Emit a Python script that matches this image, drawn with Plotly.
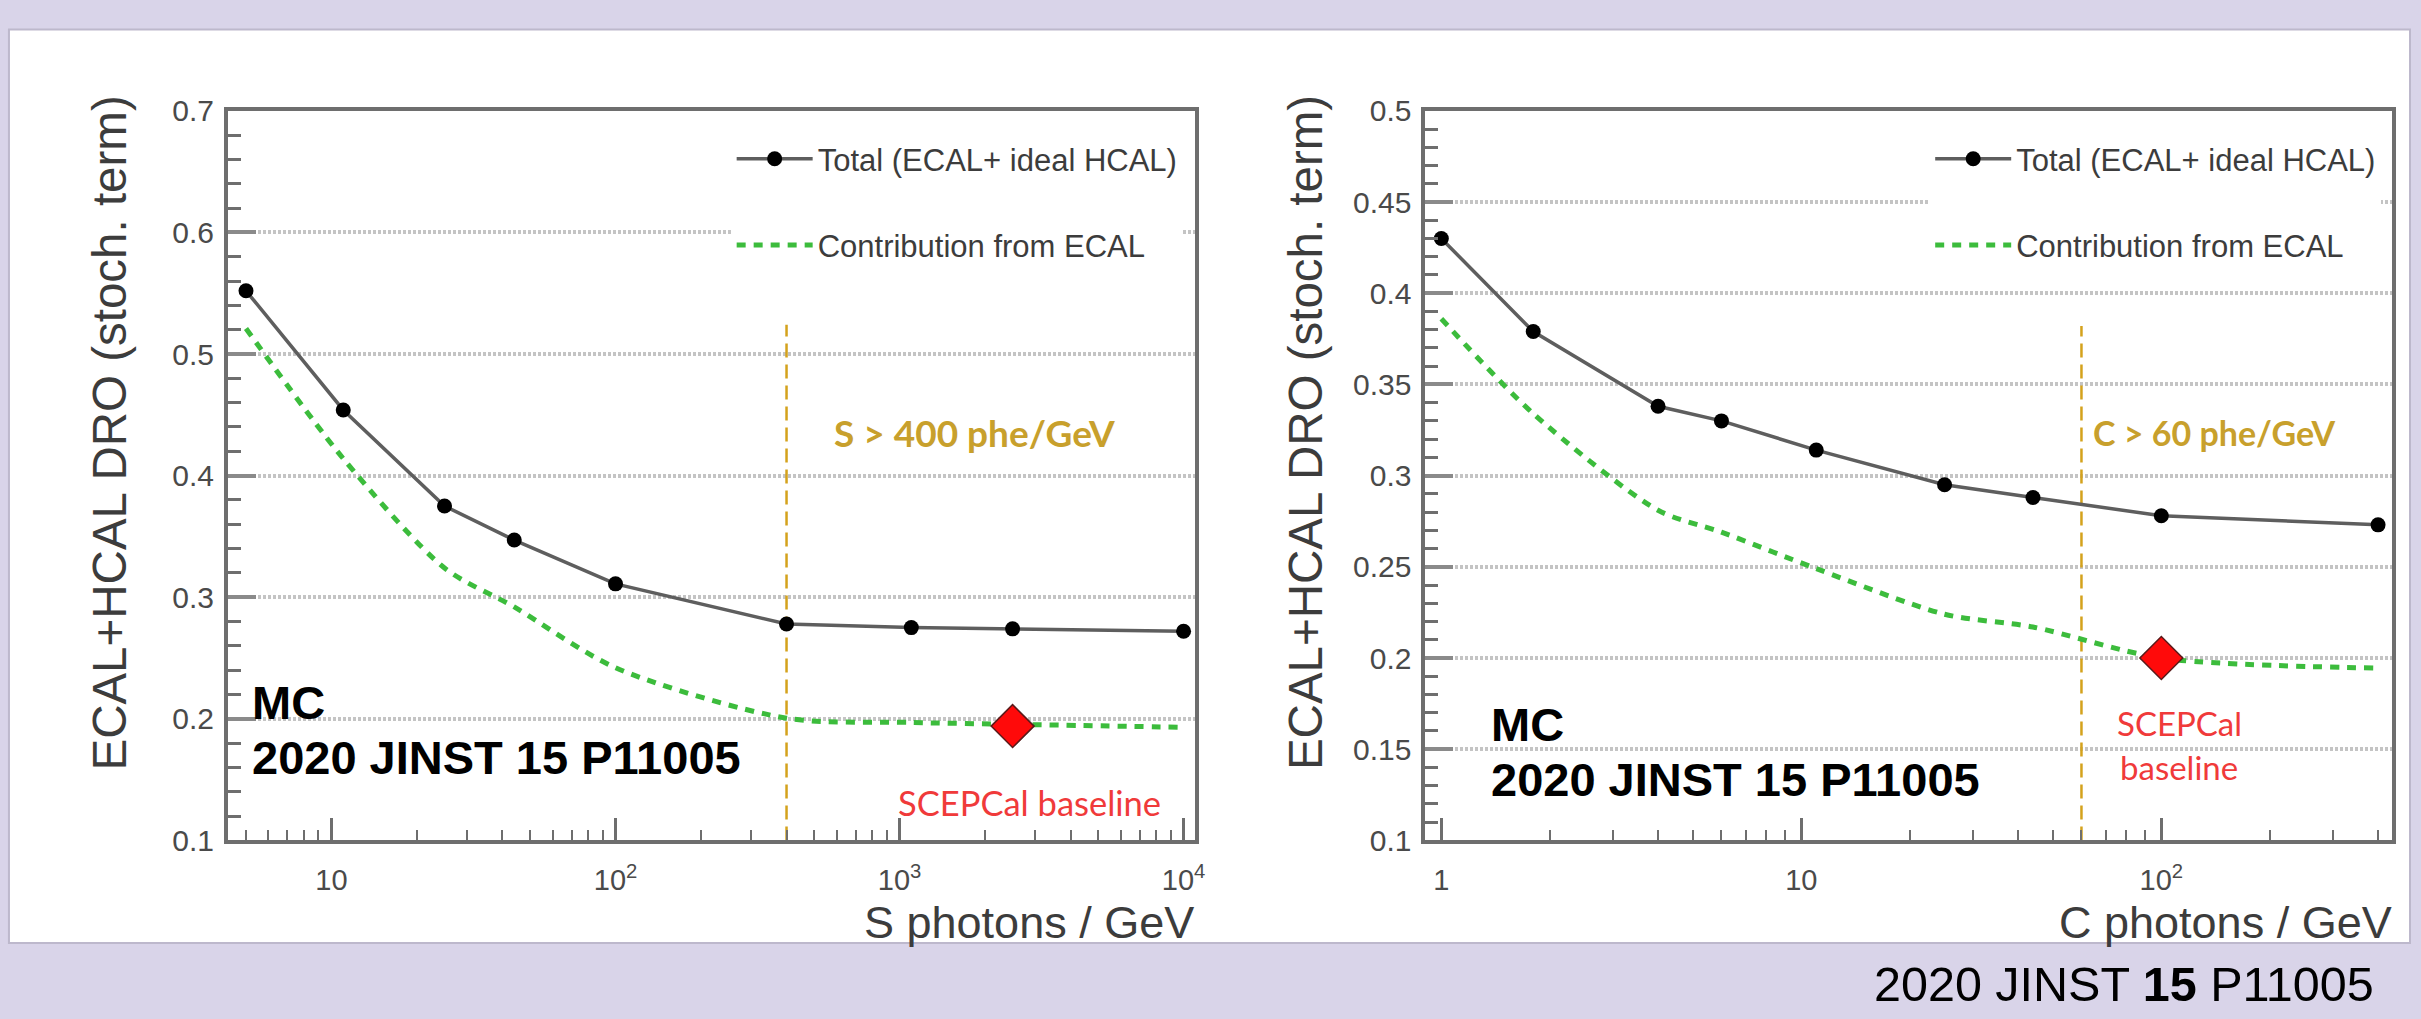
import plotly.graph_objects as go

W, H = 2421, 1019

# ---------------- data ----------------
s_photons = [5, 11, 25, 44, 100, 400, 1100, 2500, 10000]
s_total = [0.552, 0.454, 0.375, 0.347, 0.311, 0.278, 0.275, 0.274, 0.272]
s_ecal = [0.521, 0.414, 0.324, 0.292, 0.242, 0.2005, 0.197, 0.1955, 0.193]

c_photons = [1, 1.8, 4, 6, 11, 25, 44, 100, 400]
c_total = [0.430, 0.379, 0.338, 0.330, 0.314, 0.295, 0.288, 0.278, 0.273]
c_ecal = [0.386, 0.334, 0.281, 0.269, 0.249, 0.224, 0.217, 0.200, 0.1945]

s_threshold_x = [400, 400]
s_threshold_y = [0.1, 0.524]
c_threshold_x = [60, 60]
c_threshold_y = [0.1, 0.382]

s_baseline_x = [2500]
s_baseline_y = [0.194]
c_baseline_x = [100]
c_baseline_y = [0.200]

legend_names = ["Total (ECAL+ ideal HCAL)", "Contribution from ECAL"]
y_title = "ECAL+HCAL DRO (stoch. term)"

s_xtickvals = [10, 100, 1000, 10000]
s_xticktext = ["10", "10<sup>2</sup>", "10<sup>3</sup>", "10<sup>4</sup>"]
c_xtickvals = [1, 10, 100]
c_xticktext = ["1", "10", "10<sup>2</sup>"]
s_ytickvals = [0.1, 0.2, 0.3, 0.4, 0.5, 0.6, 0.7]
s_yticktext = ["0.1", "0.2", "0.3", "0.4", "0.5", "0.6", "0.7"]
c_ytickvals = [0.1, 0.15, 0.2, 0.25, 0.3, 0.35, 0.4, 0.45, 0.5]
c_yticktext = ["0.1", "0.15", "0.2", "0.25", "0.3", "0.35", "0.4", "0.45", "0.5"]

# ---------------- style ----------------
LAV = "#d9d4e9"
FRAME = "#6e6e6e"
GRID = "#c4c4c4"
TOTAL_LINE = "#5e5e5e"
GREEN = "#3cbc3c"
GOLD = "#d4a21c"
GOLD_TXT = "#c8a02c"
RED = "#ff0a0a"
RED_TXT = "#f03a3a"
ARIAL = "Liberation Sans, Arial, sans-serif"
CAL = "Lato, Calibri, sans-serif"


def px(x):
    return x / W


def py(y):
    return 1 - y / H


fig = go.Figure()

panels = [
    dict(x=s_photons, tot=s_total, ecal=s_ecal, thx=s_threshold_x, thy=s_threshold_y,
         bx=s_baseline_x, by=s_baseline_y, xa="x", ya="y", leg="legend", g=("a", "b")),
    dict(x=c_photons, tot=c_total, ecal=c_ecal, thx=c_threshold_x, thy=c_threshold_y,
         bx=c_baseline_x, by=c_baseline_y, xa="x2", ya="y2", leg="legend2", g=("c", "d")),
]

for p in panels:
    fig.add_trace(go.Scatter(
        x=p["thx"], y=p["thy"], mode="lines", xaxis=p["xa"], yaxis=p["ya"],
        line=dict(color=GOLD, width=2.5, dash="14px,7px"), showlegend=False, hoverinfo="skip"))
    fig.add_trace(go.Scatter(
        x=p["x"], y=p["ecal"], mode="lines", name=legend_names[1], xaxis=p["xa"], yaxis=p["ya"],
        line=dict(color=GREEN, width=5, dash="9px,8px", shape="spline", smoothing=0.8),
        legend=p["leg"], legendgroup=p["g"][1], legendrank=2))
    fig.add_trace(go.Scatter(
        x=p["x"], y=p["tot"], mode="lines+markers", name=legend_names[0], xaxis=p["xa"], yaxis=p["ya"],
        line=dict(color=TOTAL_LINE, width=3.5),
        marker=dict(color="black", size=15, symbol="circle"),
        legend=p["leg"], legendgroup=p["g"][0], legendrank=1))
    fig.add_trace(go.Scatter(
        x=p["bx"], y=p["by"], mode="markers", xaxis=p["xa"], yaxis=p["ya"],
        marker=dict(symbol="diamond", size=33, color=RED, line=dict(color="#5a1a1a", width=1.5)),
        showlegend=False, hoverinfo="skip"))

ydom = [py(852), py(98)]


def xaxis_cfg(domain, rng, vals, text, anchor):
    minor_vals = [m * 10 ** e for e in range(-1, 5) for m in range(2, 10)]
    return dict(domain=domain, type="log", range=rng, tickmode="array", tickvals=vals, ticktext=text,
                anchor=anchor,
                ticks="inside", ticklen=22, tickwidth=2.5, tickcolor=FRAME,
                minor=dict(tickmode="array", tickvals=minor_vals, ticks="inside", ticklen=10,
                           tickwidth=2, tickcolor=FRAME, showgrid=False),
                showline=True, linecolor=FRAME, linewidth=4, mirror=True,
                showgrid=False, zeroline=False,
                tickfont=dict(family=ARIAL, size=29, color="#4a4a4a"), ticklabelstandoff=11)


def yaxis_cfg(rng, vals, text, minor_dt, anchor):
    return dict(domain=ydom, range=rng, tickmode="array", tickvals=vals, ticktext=text, anchor=anchor,
                ticks="inside", ticklen=28, tickwidth=3.5, tickcolor="#8a8a8a",
                minor=dict(dtick=minor_dt, tick0=0.1, ticks="inside", ticklen=13, tickwidth=2.5,
                           tickcolor=FRAME, showgrid=False),
                showline=True, linecolor=FRAME, linewidth=4, mirror=True,
                showgrid=True, gridcolor=GRID, gridwidth=4, griddash="3px,2px", zeroline=False,
                tickfont=dict(family=ARIAL, size=30, color="#4a4a4a"), ticklabelstandoff=4)


leg_common = dict(bgcolor="white", borderwidth=0, font=dict(family=ARIAL, size=31, color="#3c3c3c"),
                  xanchor="left", yanchor="top", itemwidth=76, tracegroupgap=43,
                  traceorder="grouped")

annotations = []
# axis titles
for cx in (110, 1311):
    annotations.append(dict(text=y_title, x=px(cx), y=py(431), xref="paper", yref="paper",
                            textangle=-90, showarrow=False, xanchor="center", yanchor="middle",
                            font=dict(family=ARIAL, size=47.5, color="#3c3c3c")))
annotations.append(dict(text="S photons / GeV", x=px(1201), y=py(937), xref="paper", yref="paper",
                        showarrow=False, xanchor="right", yanchor="middle",
                        font=dict(family=ARIAL, size=45, color="#3c3c3c")))
annotations.append(dict(text="C photons / GeV", x=px(2405), y=py(937), xref="paper", yref="paper",
                        showarrow=False, xanchor="right", yanchor="middle",
                        font=dict(family=ARIAL, size=45, color="#3c3c3c")))
# threshold labels
annotations.append(dict(text="<b>S &gt; 400 phe/GeV</b>", x=px(836), y=py(430), xref="paper", yref="paper",
                        showarrow=False, xanchor="left", yanchor="middle",
                        font=dict(family=CAL, size=37, color=GOLD_TXT)))
annotations.append(dict(text="<b>C &gt; 60 phe/GeV</b>", x=px(2101), y=py(430), xref="paper", yref="paper",
                        showarrow=False, xanchor="left", yanchor="middle",
                        font=dict(family=CAL, size=34, color=GOLD_TXT)))
# baseline labels
annotations.append(dict(text="SCEPCal baseline", x=px(1034), y=py(813), xref="paper", yref="paper",
                        showarrow=False, xanchor="center", yanchor="middle",
                        font=dict(family=CAL, size=34.5, color=RED_TXT)))
annotations.append(dict(text="SCEPCal", x=px(2189), y=py(731), xref="paper", yref="paper",
                        showarrow=False, xanchor="center", yanchor="middle",
                        font=dict(family=CAL, size=33, color=RED_TXT)))
annotations.append(dict(text="baseline", x=px(2189), y=py(776), xref="paper", yref="paper",
                        showarrow=False, xanchor="center", yanchor="middle",
                        font=dict(family=CAL, size=33, color=RED_TXT)))
# MC labels
for lx, y1, y2 in ((251, 709, 766), (1496, 732, 789)):
    annotations.append(dict(text="<b>MC</b>", x=px(lx), y=py(y1), xref="paper", yref="paper",
                            showarrow=False, xanchor="left", yanchor="middle",
                            font=dict(family=ARIAL, size=47, color="black")))
    annotations.append(dict(text="<b>2020 JINST 15 P11005</b>", x=px(lx), y=py(y2), xref="paper",
                            yref="paper", showarrow=False, xanchor="left", yanchor="middle",
                            font=dict(family=ARIAL, size=47, color="black")))
# footer
annotations.append(dict(text="2020 JINST <b>15</b> P11005", x=px(2387), y=py(1000), xref="paper", yref="paper",
                        showarrow=False, xanchor="right", yanchor="middle",
                        font=dict(family=ARIAL, size=48.5, color="black")))

fig.update_layout(
    width=W, height=H, margin=dict(l=0, r=0, t=0, b=0),
    paper_bgcolor=LAV, plot_bgcolor="white",
    xaxis=xaxis_cfg([px(229), px(1200)], [0.6355, 4.0386], s_xtickvals, s_xticktext, "y"),
    yaxis=yaxis_cfg([0.1, 0.7], s_ytickvals, s_yticktext, 0.02, "x"),
    xaxis2=xaxis_cfg([px(1432), px(2403)], [-0.044, 2.641], c_xtickvals, c_xticktext, "y2"),
    yaxis2=yaxis_cfg([0.1, 0.5], c_ytickvals, c_yticktext, 0.01, "x2"),
    legend=dict(x=px(735), y=py(120), **leg_common),
    legend2=dict(x=px(1939), y=py(120), **leg_common),
    shapes=[dict(type="rect", xref="paper", yref="paper", x0=px(9), x1=1.0, y0=py(958), y1=py(14),
                 fillcolor="white", line=dict(color="#bdb8cc", width=2), layer="below")],
    annotations=annotations,
    showlegend=True,
)

fig.write_html("out.html")
